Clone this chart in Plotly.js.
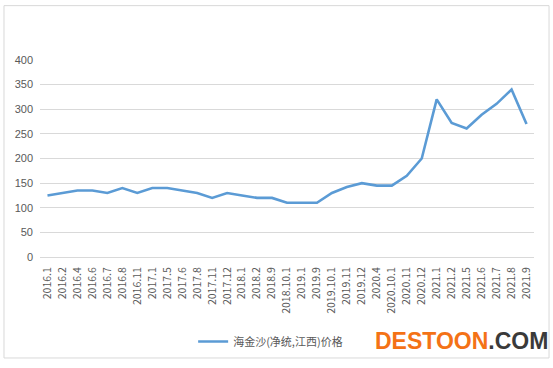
<!DOCTYPE html>
<html>
<head>
<meta charset="utf-8">
<script src="https://cdn.plot.ly/plotly-3.0.1.min.js"></script>
<style>html,body{margin:0;padding:0;background:#fff;}#chart{width:553px;height:368px;}</style>
</head>
<body>
<div id="chart"></div>
<script>
var categories = ["2016.1","2016.2","2016.4","2016.6","2016.7","2016.8","2016.11","2017.1","2017.5","2017.6","2017.8","2017.11","2017.12","2018.1","2018.2","2018.9","2018.10.1","2019.1","2019.9","2019.10.1","2019.11","2019.12","2020.4","2020.10.1","2020.11","2020.12","2021.1","2021.2","2021.5","2021.6","2021.7","2021.8","2021.9"];
var prices = [125,130,135,135,130,140,130,140,140,135,130,120,130,125,120,120,110,110,110,130,142,150,145,145,165,200,320,272,261,289,311,340,270];
var seriesName = "海金沙(净统,江西)价格";
var yTicks = [0,50,100,150,200,250,300,350,400];

var trace = {
  x: categories, y: prices, type: "scatter", mode: "lines", name: seriesName,
  line: {color: "#5b9bd5", width: 2.6}
};
var layout = {
  width: 553, height: 368,
  margin: {l: 40, r: 19, t: 60, b: 109},
  paper_bgcolor: "#fff", plot_bgcolor: "#fff",
  font: {family: "Liberation Sans, Arial, sans-serif", color: "#595959"},
  showlegend: true,
  legend: {orientation: "h", x: 0.31, xanchor: "left", y: -0.355, yanchor: "top",
           font: {size: 11, color: "#595959", family: "Noto Sans CJK SC, sans-serif"}, itemwidth: 30},
  xaxis: {type: "category", range: [-0.5, 32.5], tickangle: -90, showgrid: false,
          showline: true, linecolor: "#d9d9d9", linewidth: 1, ticks: "", ticklabelstandoff: 5,
          tickfont: {size: 10.5, color: "#595959", family: "Noto Sans CJK SC, sans-serif"}, automargin: false},
  yaxis: {range: [0, 400], tickvals: yTicks, showgrid: true, gridcolor: "#d9d9d9", gridwidth: 1,
          zeroline: false, showline: false, ticks: "", ticklen: 0, ticklabelstandoff: 6,
          tickfont: {size: 11, color: "#595959"}, automargin: false},
  shapes: [{type: "rect", xref: "paper", yref: "paper", x0: -0.0729, x1: 1.0304, y0: -0.5126, y1: 1.276,
            line: {color: "#d9d9d9", width: 1}, fillcolor: "rgba(0,0,0,0)"}],
  annotations: [{xref: "paper", yref: "paper", x: 1.032, xanchor: "right", y: -0.35, yanchor: "top",
                 showarrow: false, align: "right",
                 text: "<b><span style='color:#f47216'>DESTOON</span><span style='color:#3a3a3a'>.COM</span></b>",
                 font: {size: 23, family: "Liberation Sans, Arial, sans-serif"}}]
};
Plotly.newPlot("chart", [trace], layout, {displayModeBar: false, staticPlot: true});
</script>
</body>
</html>
